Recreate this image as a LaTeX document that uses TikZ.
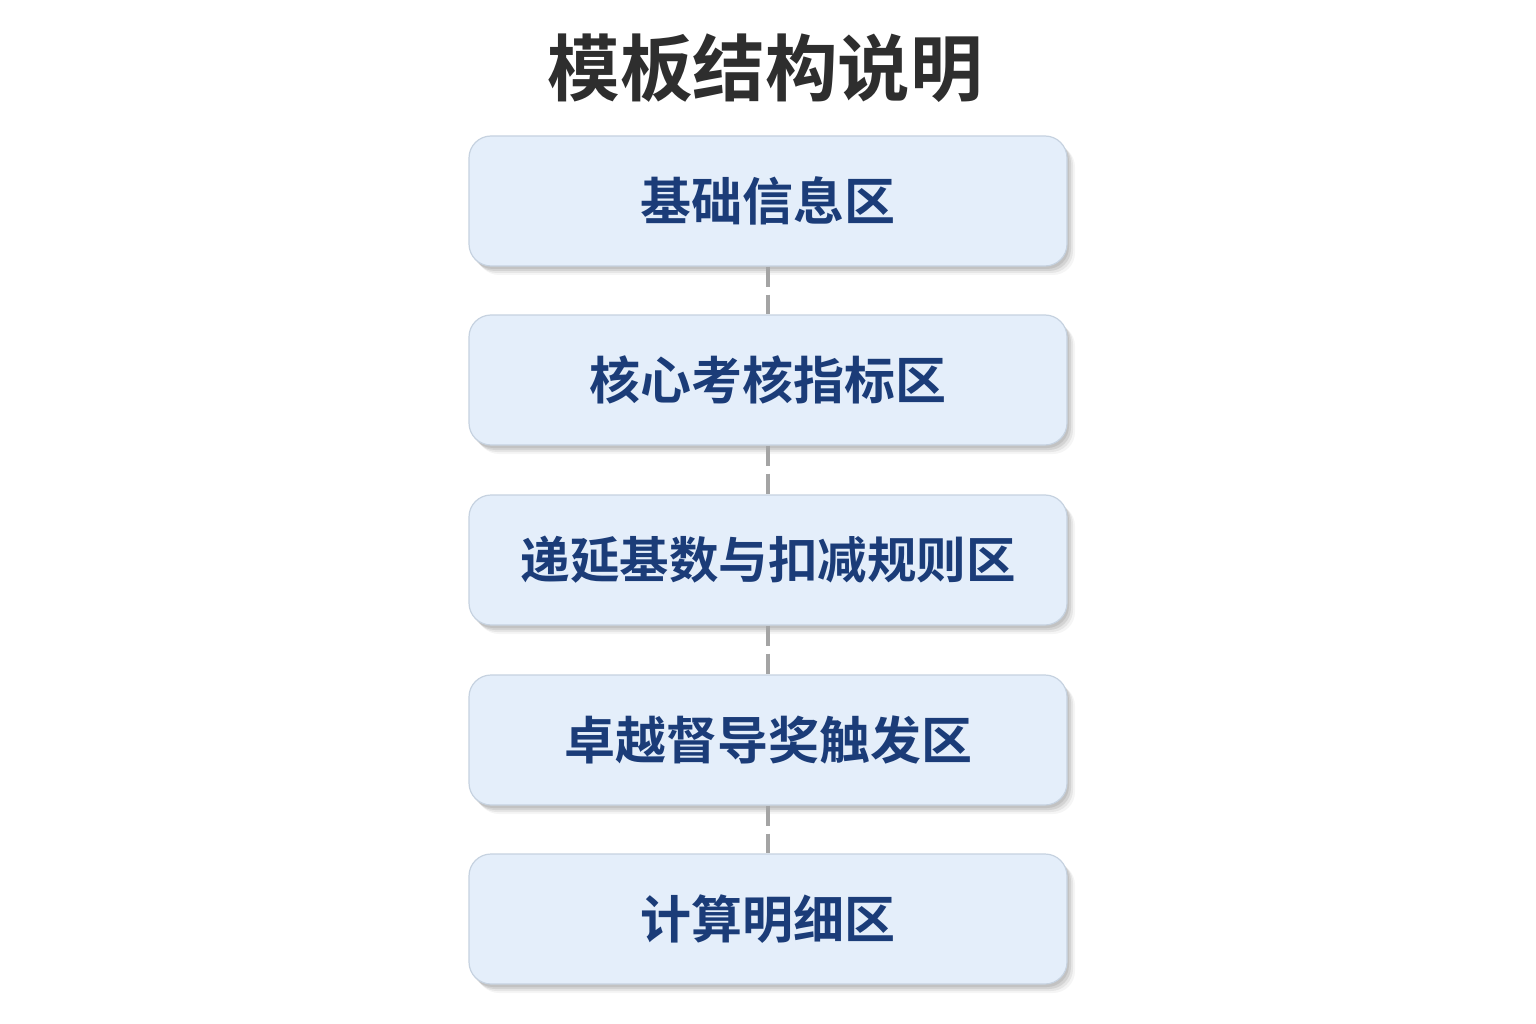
\documentclass[tikz,border=0pt]{standalone}
\usepackage{fontspec}
\newfontfamily\cjk{Noto Sans CJK SC}[BoldFont={Noto Sans CJK SC Bold}]
\usetikzlibrary{shadows}
\definecolor{boxfill}{HTML}{E4EEFA}
\definecolor{boxdraw}{HTML}{C6D2E0}
\definecolor{boxtext}{HTML}{1B3C78}
\definecolor{titletext}{HTML}{2E2E2E}
\definecolor{linkgray}{HTML}{A4A4A4}
\tikzset{
  zone/.style={draw=boxdraw, line width=1.2pt, fill=boxfill, rounded corners=22pt,
    minimum width=598pt, minimum height=130pt, inner sep=0pt,
    font=\cjk\bfseries\fontsize{51pt}{60pt}\selectfont, text=boxtext,
    drop shadow={shadow xshift=8pt, shadow yshift=-9pt, fill=black, opacity=0.04},
    drop shadow={shadow xshift=6pt, shadow yshift=-7pt, fill=black, opacity=0.06},
    drop shadow={shadow xshift=4pt, shadow yshift=-5pt, fill=black, opacity=0.08},
    drop shadow={shadow xshift=2pt, shadow yshift=-3pt, fill=black, opacity=0.08}},
  link/.style={draw=linkgray, line width=4pt, dash pattern=on 20pt off 8pt},
  titlestyle/.style={font=\cjk\bfseries\fontsize{72.5pt}{82pt}\selectfont, text=titletext, inner sep=0pt}
}
\begin{document}
\begin{tikzpicture}[x=1pt,y=-1pt]
\useasboundingbox[fill=white] (0,0) rectangle (1536,1024);
\node[titlestyle] (title) at (765,68) {模板结构说明};
\node[zone] (b1) at (768,201) {基础信息区};
\node[zone] (b2) at (768,380) {核心考核指标区};
\node[zone, font=\cjk\bfseries\fontsize{49.5pt}{60pt}\selectfont] (b3) at (768,560) {递延基数与扣减规则区};
\node[zone] (b4) at (768,740) {卓越督导奖触发区};
\node[zone] (b5) at (768,919) {计算明细区};
\draw[link] (b1.south) -- (b2.north);
\draw[link] (b2.south) -- (b3.north);
\draw[link] (b3.south) -- (b4.north);
\draw[link] (b4.south) -- (b5.north);
\end{tikzpicture}
\end{document}
